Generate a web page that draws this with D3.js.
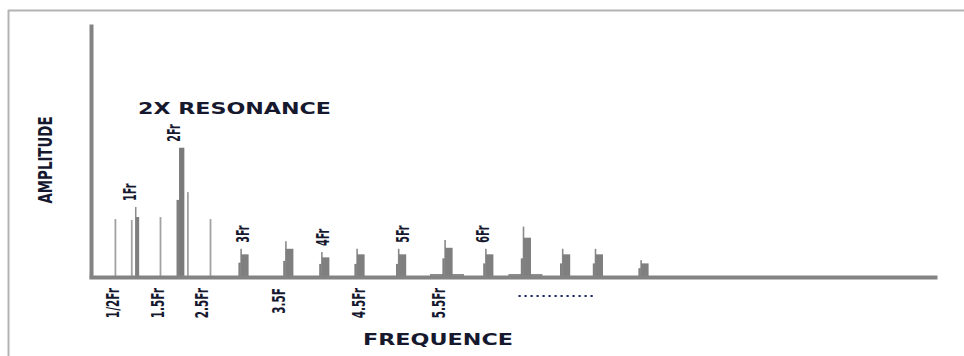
<!DOCTYPE html>
<html>
<head>
<meta charset="utf-8">
<script src="https://cdn.jsdelivr.net/npm/d3@7"></script>
<style>
  html, body { margin: 0; padding: 0; background: #fff; }
  svg { display: block; }
</style>
</head>
<body>
<svg id="chart" width="964" height="356"></svg>
<script>
// Lines below 2.5 Fr: frequency in multiples of Fr, amplitude in % of full scale
const lowFreqs = [0.5, 0.87, 0.96, 1.0, 1.52, 1.92, 2.0, 2.14, 2.59];
const lowAmps  = [22.6, 22.2, 27.4, 23.4, 23.4, 30.2, 50.9, 33.3, 22.6];
const lowKinds = ["line", "line", "spike", "narrow", "line", "narrow", "wide", "line", "line"];

// Peak clusters from 3 Fr upward: a shoulder, a narrow spike and the main bar
const peakFreqs    = [3.0, 3.56, 4.01, 4.45, 4.97, 5.55, 6.06, 6.53, 7.02, 7.43, 8.0];
const shoulderAmps = [5.3, 6.0, 4.8, 4.8, 4.8, 7.0, 5.0, 7.0, 5.0, 5.0, 3.1];
const spikeAmps    = [10.8, 13.8, 9.5, 10.8, 10.8, 14.3, 10.8, 19.6, 10.8, 10.8, 6.3];
const mainAmps     = [8.6, 10.8, 7.4, 8.6, 8.6, 11.2, 8.6, 15.2, 8.6, 8.6, 5.0];
const floorAmps    = [0, 0, 0, 0, 0, 0.8, 0, 0.8, 0, 0, 0];

// Harmonic labels above the peaks
const harmonicLabels = ["1Fr", "2Fr", "3Fr", "4Fr", "5Fr", "6Fr"];
const harmonicFreqs  = [1, 2, 3, 4, 5, 6];

// Half-order labels under the axis
const tickLabels = ["1/2Fr", "1.5Fr", "2.5Fr", "3.5F", "4.5Fr", "5.5Fr"];
const tickFreqs  = [0.5, 1.5, 2.5, 3.5, 4.5, 5.5];

// ---- layout and style ----
const FONT = "'DejaVu Sans', 'Liberation Sans', Arial, sans-serif";
const INK = "#16182e";
const BAR = "#7f7f7f";
const AXIS = "#838383";
const kindStyle = {
  line:   { w: 1.8, c: "#a2a2a2" },
  spike:  { w: 1.5, c: "#8c8c8c" },
  narrow: { w: 3.3, c: "#7f7f7f" },
  wide:   { w: 5.3, c: "#7a7a7a" }
};

const svg = d3.select("#chart");

// Frequency axis is compressed below 2.5 Fr and opens up from 3 Fr on
const x = d3.scaleLinear()
  .domain([-0.1, 2.5, 3, 11.7])
  .range([88.9, 203.8, 241, 937]);
const y = d3.scaleLinear().domain([0, 100]).range([276, 24]);

// Outer frame (top and left edges)
svg.append("line").attr("x1", 8).attr("x2", 964).attr("y1", 10.5).attr("y2", 10.5)
  .attr("stroke", "#b3b3b3").attr("stroke-width", 2);
svg.append("line").attr("x1", 8.5).attr("x2", 8.5).attr("y1", 10).attr("y2", 356)
  .attr("stroke", "#b3b3b3").attr("stroke-width", 2);

// Low-order lines
const low = lowFreqs.map((f, i) => ({ f, a: lowAmps[i], k: lowKinds[i] }));
svg.append("g").selectAll("rect").data(low).join("rect")
  .attr("x", d => x(d.f) - kindStyle[d.k].w / 2)
  .attr("width", d => kindStyle[d.k].w)
  .attr("y", d => y(d.a))
  .attr("height", d => y(0) - y(d.a))
  .attr("fill", d => kindStyle[d.k].c);

// Peak clusters
const peaks = peakFreqs.map((f, i) => ({
  f, sh: shoulderAmps[i], sp: spikeAmps[i], mn: mainAmps[i], fl: floorAmps[i]
}));
const pg = svg.append("g").attr("fill", BAR);
pg.selectAll("rect.floor").data(peaks.filter(d => d.fl > 0)).join("rect")
  .attr("class", "floor")
  .attr("x", d => x(d.f) - 15).attr("width", 34)
  .attr("y", d => y(d.fl)).attr("height", d => y(0) - y(d.fl))
  .attr("fill", "#8d8d8d");
pg.selectAll("rect.shoulder").data(peaks).join("rect")
  .attr("class", "shoulder")
  .attr("x", d => x(d.f) - 2.6).attr("width", 2.6)
  .attr("y", d => y(d.sh)).attr("height", d => y(0) - y(d.sh));
pg.selectAll("rect.spike").data(peaks).join("rect")
  .attr("class", "spike")
  .attr("x", d => x(d.f) - 0.7).attr("width", 1.6)
  .attr("y", d => y(d.sp)).attr("height", d => y(0) - y(d.sp))
  .attr("fill", "#8a8a8a");
pg.selectAll("rect.main").data(peaks).join("rect")
  .attr("class", "main")
  .attr("x", d => x(d.f)).attr("width", 7.6)
  .attr("y", d => y(d.mn)).attr("height", d => y(0) - y(d.mn));

// Axes: plain thick lines, no ticks
const xAxis = svg.append("g").attr("transform", `translate(0,277)`)
  .call(d3.axisBottom(x).tickValues([]).tickSizeOuter(0));
const yAxis = svg.append("g").attr("transform", `translate(91,0)`)
  .call(d3.axisLeft(y).tickValues([]).tickSizeOuter(0));
[xAxis, yAxis].forEach(g => g.select(".domain")
  .attr("stroke", AXIS).attr("stroke-width", 4));

// Helper for upward-reading, condensed labels
function vText(parent, tx, ty, str, size, anchor, condense) {
  const t = parent.append("text")
    .attr("transform", `translate(${tx},${ty}) rotate(-90)`)
    .attr("text-anchor", anchor)
    .attr("dominant-baseline", "central")
    .attr("font-family", FONT)
    .attr("font-weight", "bold")
    .attr("font-size", size)
    .attr("fill", INK)
    .text(str);
  const len = t.node().getComputedTextLength();
  t.attr("textLength", len * condense).attr("lengthAdjust", "spacingAndGlyphs");
  return t;
}

// Harmonic labels sit just above the tallest mark near each harmonic
const allMarks = low.map(d => ({ f: d.f, a: d.a }))
  .concat(peaks.map(d => ({ f: d.f, a: Math.max(d.sh, d.sp, d.mn) })));
const lg = svg.append("g");
harmonicLabels.forEach((lab, i) => {
  const h = harmonicFreqs[i];
  const top = d3.max(allMarks.filter(m => Math.abs(m.f - h) < 0.15), m => m.a);
  const nudge = h < 2.75 ? -8 : 1.5;
  vText(lg, x(h) + nudge, y(top) - 6, lab, 17.5, "start", 0.55);
});

// Half-order labels under the axis
tickLabels.forEach((lab, i) => {
  vText(lg, x(tickFreqs[i]) - 2, 288, lab, 17.5, "end", 0.6);
});

// Axis titles and annotation
vText(lg, 45, 160, "AMPLITUDE", 20, "middle", 1)
  .attr("textLength", 87);

lg.append("text")
  .attr("x", 138).attr("y", 114)
  .attr("font-family", FONT).attr("font-weight", "bold").attr("font-size", 15.5)
  .attr("fill", INK)
  .attr("textLength", 193).attr("lengthAdjust", "spacingAndGlyphs")
  .text("2X RESONANCE");

lg.append("text")
  .attr("x", 363).attr("y", 345)
  .attr("font-family", FONT).attr("font-weight", "bold").attr("font-size", 16)
  .attr("fill", INK)
  .attr("textLength", 150).attr("lengthAdjust", "spacingAndGlyphs")
  .text("FREQUENCE");

// Continuation dots under the higher orders
svg.append("line")
  .attr("x1", x(6.5) - 2.5).attr("x2", x(7.4))
  .attr("y1", 296).attr("y2", 296)
  .attr("stroke", "#1d2a62").attr("stroke-width", 2.2)
  .attr("stroke-dasharray", "2.2,3.8");
</script>
</body>
</html>
